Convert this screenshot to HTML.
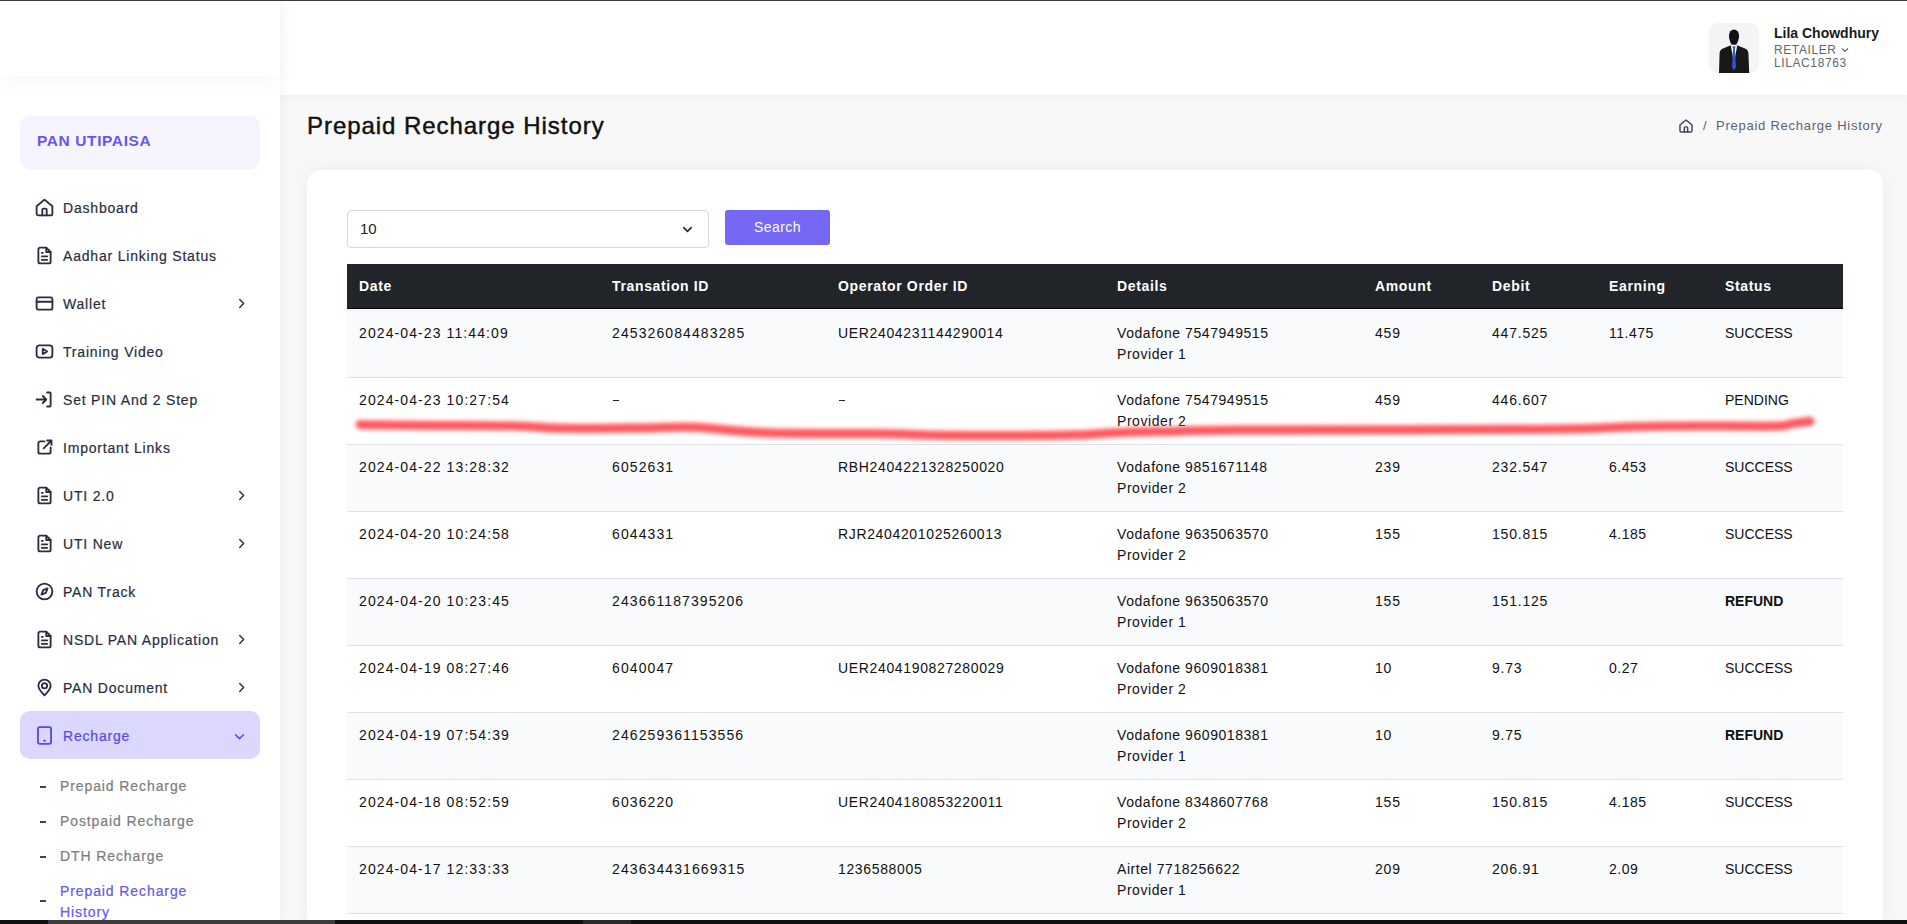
<!DOCTYPE html>
<html><head><meta charset="utf-8">
<style>
*{box-sizing:border-box;margin:0;padding:0}
html,body{width:1907px;height:924px;overflow:hidden}
body{font-family:"Liberation Sans",sans-serif;background:#f8f8f9;position:relative;color:#111}
.abs{position:absolute}
#topline{left:0;top:0;width:1907px;height:1px;background:#3a3a3a;z-index:50}
#botbar{left:0;top:920px;width:1907px;height:4px;background:#111;z-index:50}
#botbar>div:first-child{}
#sidebar{left:0;top:0;width:280px;height:924px;background:#fff;z-index:5;box-shadow:2px 0 10px rgba(20,20,40,0.045)}
#sbhead{left:0;top:0;width:280px;height:76px;background:#fff;box-shadow:0 8px 18px rgba(0,0,0,0.03)}
#brand{left:20px;top:116px;width:240px;height:54px;background:#f6f4fe;border-radius:10px}
#brand span{position:absolute;left:17px;top:16px;font-size:15.5px;font-weight:bold;color:#6657f2;letter-spacing:0.6px}
.mi{position:absolute;left:20px;width:240px;height:48px;border-radius:10px}
.mi .t{position:absolute;left:43px;top:17px;font-size:14px;color:#2a2d3e;letter-spacing:0.8px;-webkit-text-stroke:0.2px currentColor;white-space:nowrap}
.mi svg.ic{position:absolute;left:14px;top:14px;width:21px;height:21px}
.mi svg.ch{position:absolute;left:213px;top:16px;width:17px;height:17px}
.mi.act{background:#dcd8fd}
.mi.act .t{color:#5548f0}
.mi.act svg.ch{left:211px;top:17px}
.sub{position:absolute;left:40px;font-size:14px;color:#7c7c7c;letter-spacing:0.9px;-webkit-text-stroke:0.2px currentColor}
.sub .d{position:absolute;left:0px;top:10px;width:6px;height:2px;background:#444}
.sub .t{position:absolute;left:20px;top:0;white-space:nowrap;line-height:21px}
#header{left:280px;top:0;width:1627px;height:95px;background:#fff;z-index:4;box-shadow:0 3px 12px rgba(20,20,40,0.04)}
#avatar{left:1429px;top:23px;width:50px;height:50px;background:#f4f4f4;border-radius:9px;overflow:hidden}
#uname{left:1494px;top:25px;font-size:14px;font-weight:bold;color:#1a1a1a;white-space:nowrap}
#urole{left:1494px;top:43px;font-size:12px;color:#666;letter-spacing:0.6px;white-space:nowrap}
#uid{left:1494px;top:56px;font-size:12px;color:#666;letter-spacing:0.6px;white-space:nowrap}
#title{left:307px;top:112px;font-size:24px;color:#111;letter-spacing:0.95px;white-space:nowrap;-webkit-text-stroke:0.45px #111}
#bc{left:1678px;top:117px;width:220px;height:20px;font-size:13px;color:#5a6270;letter-spacing:0.75px;white-space:nowrap}
#bc .hm{position:absolute;left:0;top:1px;width:16px;height:16px}
#bc .sl{position:absolute;left:25px;top:1px}
#bc .bt{position:absolute;left:38px;top:1px}
#card{left:307px;top:170px;width:1576px;height:760px;background:#fff;border-radius:14px;box-shadow:0 0 22px rgba(20,20,40,0.055)}
#sel{left:347px;top:210px;width:362px;height:38px;border:1px solid #d5d9de;border-radius:4px;background:#fff}
#sel .v{position:absolute;left:12px;top:9px;font-size:15px;color:#222}
#sel .sc{position:absolute;left:332px;top:11px;width:15px;height:15px}
#btn{left:725px;top:210px;width:105px;height:35px;background:#7468f5;border-radius:3px;color:#fff;font-size:14px;text-align:center;line-height:34px;letter-spacing:0.4px}
#thead{left:347px;top:264px;width:1496px;height:45px;background:#212529;border-bottom:1px solid #000}
#tgap{left:347px;top:309px;width:1496px;height:2px;background:linear-gradient(#fff 50%,#eef1f6 50%)}
.th{position:absolute;top:14px;color:#fff;font-size:14px;font-weight:bold;letter-spacing:0.65px;white-space:nowrap}
.row{position:absolute;left:347px;width:1496px;height:67px;border-bottom:1px solid #dee2e6}
.row.odd{background:#f9fafb}
.row.even{background:#fff}
.td{position:absolute;top:12px;font-size:14px;color:#111;letter-spacing:0.95px;white-space:nowrap;line-height:21px}
#redline{left:0;top:0;z-index:20;pointer-events:none}

.dash{display:inline-block;width:5.5px;height:1.3px;background:#222;vertical-align:4px;margin-left:1px}

</style></head>
<body>
<div id="topline" class="abs"></div>
<div id="sidebar" class="abs">
  <div id="sbhead" class="abs"></div>
  <div id="brand" class="abs"><span>PAN UTIPAISA</span></div>
  <div class="mi" style="top:183px"><svg class="ic" viewBox="0 0 24 24" fill="none" stroke="#2a2d3e" stroke-width="2.1" stroke-linecap="round" stroke-linejoin="round"><path d="M3 10.5 L12 3 L21 10.5 V19 a2 2 0 0 1 -2 2 H5 a2 2 0 0 1 -2 -2 Z"/><path d="M9.5 21 V14.5 a1.2 1.2 0 0 1 1.2 -1.2 H13.3 a1.2 1.2 0 0 1 1.2 1.2 V21"/></svg><span class="t">Dashboard</span></div><div class="mi" style="top:231px"><svg class="ic" viewBox="0 0 24 24" fill="none" stroke="#2a2d3e" stroke-width="2.1" stroke-linecap="round" stroke-linejoin="round"><path d="M14 3 H7 a2 2 0 0 0 -2 2 V19 a2 2 0 0 0 2 2 H17 a2 2 0 0 0 2 -2 V8 Z"/><path d="M14 3 V8 H19"/><path d="M9 13 H15 M9 17 H15 M9 9 H10"/></svg><span class="t">Aadhar Linking Status</span></div><div class="mi" style="top:279px"><svg class="ic" viewBox="0 0 24 24" fill="none" stroke="#2a2d3e" stroke-width="2.1" stroke-linecap="round" stroke-linejoin="round"><rect x="3" y="5" width="18" height="14" rx="2"/><path d="M3 10 H21"/></svg><span class="t">Wallet</span><svg class="ch" viewBox="0 0 24 24" fill="none" stroke="#2a2d3e" stroke-width="2" stroke-linecap="round" stroke-linejoin="round"><path d="M9.5 6.5 L15 12 L9.5 17.5"/></svg></div><div class="mi" style="top:327px"><svg class="ic" viewBox="0 0 24 24" fill="none" stroke="#2a2d3e" stroke-width="2.1" stroke-linecap="round" stroke-linejoin="round"><rect x="3" y="5" width="18" height="14" rx="3"/><path d="M10 9 L15 12 L10 15 Z"/></svg><span class="t">Training Video</span></div><div class="mi" style="top:375px"><svg class="ic" viewBox="0 0 24 24" fill="none" stroke="#2a2d3e" stroke-width="2.1" stroke-linecap="round" stroke-linejoin="round"><path d="M15 4 H18 a1 1 0 0 1 1 1 V19 a1 1 0 0 1 -1 1 H15"/><path d="M3 12 H13 M10 8 L14 12 L10 16"/></svg><span class="t">Set PIN And 2 Step</span></div><div class="mi" style="top:423px"><svg class="ic" viewBox="0 0 24 24" fill="none" stroke="#2a2d3e" stroke-width="2.1" stroke-linecap="round" stroke-linejoin="round"><path d="M12 5 H7 a2 2 0 0 0 -2 2 V17 a2 2 0 0 0 2 2 H17 a2 2 0 0 0 2 -2 V12"/><path d="M11 13 L20 4 M15 4 H20 V9"/></svg><span class="t">Important Links</span></div><div class="mi" style="top:471px"><svg class="ic" viewBox="0 0 24 24" fill="none" stroke="#2a2d3e" stroke-width="2.1" stroke-linecap="round" stroke-linejoin="round"><path d="M14 3 H7 a2 2 0 0 0 -2 2 V19 a2 2 0 0 0 2 2 H17 a2 2 0 0 0 2 -2 V8 Z"/><path d="M14 3 V8 H19"/><path d="M9 13 H15 M9 17 H15 M9 9 H10"/></svg><span class="t">UTI 2.0</span><svg class="ch" viewBox="0 0 24 24" fill="none" stroke="#2a2d3e" stroke-width="2" stroke-linecap="round" stroke-linejoin="round"><path d="M9.5 6.5 L15 12 L9.5 17.5"/></svg></div><div class="mi" style="top:519px"><svg class="ic" viewBox="0 0 24 24" fill="none" stroke="#2a2d3e" stroke-width="2.1" stroke-linecap="round" stroke-linejoin="round"><path d="M14 3 H7 a2 2 0 0 0 -2 2 V19 a2 2 0 0 0 2 2 H17 a2 2 0 0 0 2 -2 V8 Z"/><path d="M14 3 V8 H19"/><path d="M9 13 H15 M9 17 H15 M9 9 H10"/></svg><span class="t">UTI New</span><svg class="ch" viewBox="0 0 24 24" fill="none" stroke="#2a2d3e" stroke-width="2" stroke-linecap="round" stroke-linejoin="round"><path d="M9.5 6.5 L15 12 L9.5 17.5"/></svg></div><div class="mi" style="top:567px"><svg class="ic" viewBox="0 0 24 24" fill="none" stroke="#2a2d3e" stroke-width="2.1" stroke-linecap="round" stroke-linejoin="round"><circle cx="12" cy="12" r="9"/><path d="M15.5 8.5 L13.5 13.5 L8.5 15.5 L10.5 10.5 Z"/></svg><span class="t">PAN Track</span></div><div class="mi" style="top:615px"><svg class="ic" viewBox="0 0 24 24" fill="none" stroke="#2a2d3e" stroke-width="2.1" stroke-linecap="round" stroke-linejoin="round"><path d="M14 3 H7 a2 2 0 0 0 -2 2 V19 a2 2 0 0 0 2 2 H17 a2 2 0 0 0 2 -2 V8 Z"/><path d="M14 3 V8 H19"/><path d="M9 13 H15 M9 17 H15 M9 9 H10"/></svg><span class="t">NSDL PAN Application</span><svg class="ch" viewBox="0 0 24 24" fill="none" stroke="#2a2d3e" stroke-width="2" stroke-linecap="round" stroke-linejoin="round"><path d="M9.5 6.5 L15 12 L9.5 17.5"/></svg></div><div class="mi" style="top:663px"><svg class="ic" viewBox="0 0 24 24" fill="none" stroke="#2a2d3e" stroke-width="2.1" stroke-linecap="round" stroke-linejoin="round"><circle cx="12" cy="10" r="3"/><path d="M12 21 C8 17 5 13.5 5 10 a7 7 0 0 1 14 0 C19 13.5 16 17 12 21 Z"/></svg><span class="t">PAN Document</span><svg class="ch" viewBox="0 0 24 24" fill="none" stroke="#2a2d3e" stroke-width="2" stroke-linecap="round" stroke-linejoin="round"><path d="M9.5 6.5 L15 12 L9.5 17.5"/></svg></div><div class="mi act" style="top:711px"><svg class="ic" viewBox="0 0 24 24" fill="none" stroke="#5548f0" stroke-width="2.1" stroke-linecap="round" stroke-linejoin="round"><rect x="4.5" y="2.5" width="15" height="19" rx="2"/><path d="M11.5 18 H12.5"/></svg><span class="t">Recharge</span><svg class="ch" viewBox="0 0 24 24" fill="none" stroke="#5548f0" stroke-width="2" stroke-linecap="round" stroke-linejoin="round"><path d="M6.5 9.5 L12 15 L17.5 9.5"/></svg></div><div class="sub" style="top:776px"><span class="d"></span><span class="t">Prepaid Recharge</span></div><div class="sub" style="top:811px"><span class="d"></span><span class="t">Postpaid Recharge</span></div><div class="sub" style="top:846px"><span class="d"></span><span class="t">DTH Recharge</span></div><div class="sub act" style="top:881px;color:#6458f2"><span class="d" style="top:19px"></span><span class="t">Prepaid Recharge<br>History</span></div>
</div>
<div id="header" class="abs">
  <div id="avatar" class="abs"><svg viewBox="0 0 50 50" width="50" height="50">
    <path d="M10 50 L10.6 30 Q11 26.5 14.5 25.2 L22 22.2 L25 24 L28 22.2 L35.5 25.2 Q39 26.5 39.4 30 L40.2 50 Z" fill="#181818"/>
    <path d="M21.8 22.4 L25 40 L28.2 22.4 Z" fill="#fff"/>
    <ellipse cx="25" cy="12.6" rx="5" ry="6" fill="#111"/>
    <path d="M20.2 13.5 Q20.3 19 23 21.8 L27 21.8 Q29.7 19 29.8 13.5 Z" fill="#111"/>
    <path d="M23.4 23.2 L26.6 23.2 L25.9 26 L26.9 44 L25 47.6 L23.1 44 L24.1 26 Z" fill="#2a5ad8"/>
  </svg></div>
  <div id="uname" class="abs">Lila Chowdhury</div>
  <div id="urole" class="abs">RETAILER <svg width="8" height="8" viewBox="0 0 8 8" style="vertical-align:0px"><path d="M1 2.5 L4 5.5 L7 2.5" fill="none" stroke="#666" stroke-width="1.2"/></svg></div>
  <div id="uid" class="abs">LILAC18763</div>
</div>
<div id="title" class="abs">Prepaid Recharge History</div>
<div id="bc" class="abs"><svg class="hm" viewBox="0 0 24 24" fill="none" stroke="#3c4350" stroke-width="2.2" stroke-linecap="round" stroke-linejoin="round"><path d="M3 10.5 L12 3 L21 10.5 V19 a2 2 0 0 1 -2 2 H5 a2 2 0 0 1 -2 -2 Z"/><path d="M9.5 21 V14.5 a1.2 1.2 0 0 1 1.2 -1.2 H13.3 a1.2 1.2 0 0 1 1.2 1.2 V21"/></svg><span class="sl">/</span><span class="bt">Prepaid Recharge History</span></div>
<div id="card" class="abs"></div>
<div id="sel" class="abs"><span class="v">10</span><svg class="sc" viewBox="0 0 24 24" fill="none" stroke="#222" stroke-width="2.4" stroke-linecap="round" stroke-linejoin="round"><path d="M6 9 L12 15 L18 9"/></svg></div>
<div id="btn" class="abs">Search</div>
<div id="thead" class="abs"><div class="th" style="left:12px">Date</div><div class="th" style="left:265px">Transation ID</div><div class="th" style="left:491px">Operator Order ID</div><div class="th" style="left:770px">Details</div><div class="th" style="left:1028px">Amount</div><div class="th" style="left:1145px">Debit</div><div class="th" style="left:1262px">Earning</div><div class="th" style="left:1378px">Status</div></div>
<div id="tgap" class="abs"></div>
<div class="row odd" style="top:311px"><div class="td" style="left:12px;letter-spacing:1.1px">2024-04-23 11:44:09</div><div class="td" style="left:265px;letter-spacing:1.1px">245326084483285</div><div class="td" style="left:491px;letter-spacing:0.65px">UER2404231144290014</div><div class="td" style="left:770px;letter-spacing:0.56px">Vodafone 7547949515<br>Provider 1</div><div class="td" style="left:1028px;letter-spacing:0.8px">459</div><div class="td" style="left:1145px;letter-spacing:0.8px">447.525</div><div class="td" style="left:1262px;letter-spacing:0.5px">11.475</div><div class="td" style="left:1378px;letter-spacing:0.0px">SUCCESS</div></div><div class="row even" style="top:378px"><div class="td" style="left:12px;letter-spacing:1.1px">2024-04-23 10:27:54</div><div class="td" style="left:265px;letter-spacing:1.1px"><i class="dash"></i></div><div class="td" style="left:491px;letter-spacing:0.65px"><i class="dash"></i></div><div class="td" style="left:770px;letter-spacing:0.56px">Vodafone 7547949515<br>Provider 2</div><div class="td" style="left:1028px;letter-spacing:0.8px">459</div><div class="td" style="left:1145px;letter-spacing:0.8px">446.607</div><div class="td" style="left:1262px;letter-spacing:0.5px"></div><div class="td" style="left:1378px;letter-spacing:0.0px">PENDING</div></div><div class="row odd" style="top:445px"><div class="td" style="left:12px;letter-spacing:1.1px">2024-04-22 13:28:32</div><div class="td" style="left:265px;letter-spacing:1.1px">6052631</div><div class="td" style="left:491px;letter-spacing:0.65px">RBH2404221328250020</div><div class="td" style="left:770px;letter-spacing:0.56px">Vodafone 9851671148<br>Provider 2</div><div class="td" style="left:1028px;letter-spacing:0.8px">239</div><div class="td" style="left:1145px;letter-spacing:0.8px">232.547</div><div class="td" style="left:1262px;letter-spacing:0.5px">6.453</div><div class="td" style="left:1378px;letter-spacing:0.0px">SUCCESS</div></div><div class="row even" style="top:512px"><div class="td" style="left:12px;letter-spacing:1.1px">2024-04-20 10:24:58</div><div class="td" style="left:265px;letter-spacing:1.1px">6044331</div><div class="td" style="left:491px;letter-spacing:0.65px">RJR2404201025260013</div><div class="td" style="left:770px;letter-spacing:0.56px">Vodafone 9635063570<br>Provider 2</div><div class="td" style="left:1028px;letter-spacing:0.8px">155</div><div class="td" style="left:1145px;letter-spacing:0.8px">150.815</div><div class="td" style="left:1262px;letter-spacing:0.5px">4.185</div><div class="td" style="left:1378px;letter-spacing:0.0px">SUCCESS</div></div><div class="row odd" style="top:579px"><div class="td" style="left:12px;letter-spacing:1.1px">2024-04-20 10:23:45</div><div class="td" style="left:265px;letter-spacing:1.1px">243661187395206</div><div class="td" style="left:491px;letter-spacing:0.65px"></div><div class="td" style="left:770px;letter-spacing:0.56px">Vodafone 9635063570<br>Provider 1</div><div class="td" style="left:1028px;letter-spacing:0.8px">155</div><div class="td" style="left:1145px;letter-spacing:0.8px">151.125</div><div class="td" style="left:1262px;letter-spacing:0.5px"></div><div class="td" style="left:1378px;letter-spacing:0.0px"><b>REFUND</b></div></div><div class="row even" style="top:646px"><div class="td" style="left:12px;letter-spacing:1.1px">2024-04-19 08:27:46</div><div class="td" style="left:265px;letter-spacing:1.1px">6040047</div><div class="td" style="left:491px;letter-spacing:0.65px">UER2404190827280029</div><div class="td" style="left:770px;letter-spacing:0.56px">Vodafone 9609018381<br>Provider 2</div><div class="td" style="left:1028px;letter-spacing:0.8px">10</div><div class="td" style="left:1145px;letter-spacing:0.8px">9.73</div><div class="td" style="left:1262px;letter-spacing:0.5px">0.27</div><div class="td" style="left:1378px;letter-spacing:0.0px">SUCCESS</div></div><div class="row odd" style="top:713px"><div class="td" style="left:12px;letter-spacing:1.1px">2024-04-19 07:54:39</div><div class="td" style="left:265px;letter-spacing:1.1px">246259361153556</div><div class="td" style="left:491px;letter-spacing:0.65px"></div><div class="td" style="left:770px;letter-spacing:0.56px">Vodafone 9609018381<br>Provider 1</div><div class="td" style="left:1028px;letter-spacing:0.8px">10</div><div class="td" style="left:1145px;letter-spacing:0.8px">9.75</div><div class="td" style="left:1262px;letter-spacing:0.5px"></div><div class="td" style="left:1378px;letter-spacing:0.0px"><b>REFUND</b></div></div><div class="row even" style="top:780px"><div class="td" style="left:12px;letter-spacing:1.1px">2024-04-18 08:52:59</div><div class="td" style="left:265px;letter-spacing:1.1px">6036220</div><div class="td" style="left:491px;letter-spacing:0.65px">UER2404180853220011</div><div class="td" style="left:770px;letter-spacing:0.56px">Vodafone 8348607768<br>Provider 2</div><div class="td" style="left:1028px;letter-spacing:0.8px">155</div><div class="td" style="left:1145px;letter-spacing:0.8px">150.815</div><div class="td" style="left:1262px;letter-spacing:0.5px">4.185</div><div class="td" style="left:1378px;letter-spacing:0.0px">SUCCESS</div></div><div class="row odd" style="top:847px"><div class="td" style="left:12px;letter-spacing:1.1px">2024-04-17 12:33:33</div><div class="td" style="left:265px;letter-spacing:1.1px">243634431669315</div><div class="td" style="left:491px;letter-spacing:0.65px">1236588005</div><div class="td" style="left:770px;letter-spacing:0.56px">Airtel 7718256622<br>Provider 1</div><div class="td" style="left:1028px;letter-spacing:0.8px">209</div><div class="td" style="left:1145px;letter-spacing:0.8px">206.91</div><div class="td" style="left:1262px;letter-spacing:0.5px">2.09</div><div class="td" style="left:1378px;letter-spacing:0.0px">SUCCESS</div></div>
<svg id="redline" class="abs" width="1907" height="924" viewBox="0 0 1907 924">
  <defs><filter id="bl" x="-5%" y="-200%" width="110%" height="500%"><feGaussianBlur stdDeviation="2"/></filter></defs>
  <path d="M360,424.7 C372.3,424.8 408.2,425.2 434,425.4 C459.8,425.6 493.2,425.5 515,426.0 C536.8,426.5 544.2,428.0 565,428.3 C585.8,428.6 618.3,428.2 640,428 C661.7,427.8 674.0,426.5 695,427.3 C716.0,428.1 735.8,431.8 766,432.8 C796.2,433.9 847.0,433.2 876,433.6 C905.0,434.0 917.7,434.9 940,435.2 C962.3,435.5 987.5,435.6 1010,435.5 C1032.5,435.4 1055.8,435.4 1075,434.8 C1094.2,434.2 1108.2,432.8 1125,432.2 C1141.8,431.6 1156.8,431.6 1176,431.2 C1195.2,430.8 1179.3,430.3 1240,430 C1300.7,429.7 1474.3,429.9 1540,429.3 C1605.7,428.8 1607.8,427.2 1634,426.7 C1660.2,426.1 1673.3,426.1 1697,426 C1720.7,425.9 1760.2,426.4 1776,426 C1791.8,425.6 1786.3,424.4 1792,423.6 C1797.7,422.8 1807.0,421.6 1810,421.2" fill="none" stroke="#ff575d" stroke-width="9" stroke-linecap="round" stroke-linejoin="round" filter="url(#bl)"/>
</svg>
<div id="botbar" class="abs"><div style="position:absolute;left:48px;top:0;width:287px;height:4px;background:#3c3c3c"></div><div style="position:absolute;left:583px;top:0;width:48px;height:4px;background:#2a2a2a"></div></div>
</body></html>
